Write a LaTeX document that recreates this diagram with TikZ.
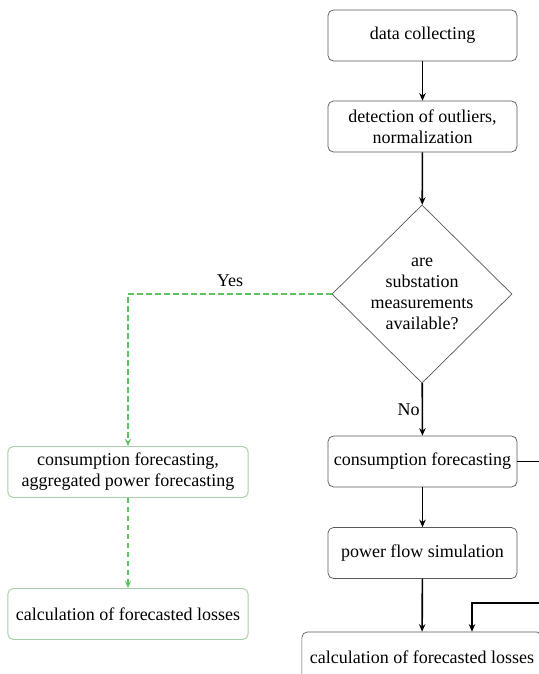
\documentclass[tikz,border=0pt]{standalone}
\usepackage{fontspec}
\setmainfont{Liberation Serif}
\usetikzlibrary{shapes.geometric,arrows.meta}
\begin{document}
\begin{tikzpicture}[x=0.5556pt,y=-0.5556pt,
  stepbox/.style={draw=black!65,line width=0.4pt,rounded corners=3pt,align=center,minimum width=105pt,minimum height=28.3pt,inner sep=2pt,font=\fontsize{10}{11.7}\selectfont},
  greenbox/.style={stepbox,draw=green!45!black!35!white,line width=0.5pt,minimum width=133.5pt},
  decision/.style={draw=black!65,line width=0.4pt,diamond,minimum width=100pt,minimum height=99pt,inner sep=0pt,align=center,font=\fontsize{10}{11.7}\selectfont},
  flow/.style={-{Stealth[length=4.2pt,width=3.6pt]},line width=0.9pt,black},
  gflow/.style={-{Stealth[length=4pt,width=3.4pt]},line width=0.8pt,color={rgb,255:red,95;green,195;blue,95},dash pattern=on 3pt off 2pt},
  lbl/.style={font=\fontsize{10}{12}\selectfont,inner sep=1pt}]
\useasboundingbox (0,0) rectangle (539,674);
\clip (0,0) rectangle (539,674);
\node[stepbox] (dc) at (422.5,35.5) {data collecting};
\node[stepbox] (det) at (422.5,126.5) {detection of outliers,\\normalization};
\node[decision] (dia) at (422,294) {are\\substation\\measurements\\available?};
\node[stepbox] (cf) at (422.5,461.5) {consumption forecasting};
\node[stepbox] (pf) at (422.5,553) {power flow simulation};
\node[stepbox,minimum width=133.5pt] (calc) at (422,657.5) {calculation of forecasted losses};
\node[greenbox] (cfa) at (128,472) {consumption forecasting,\\aggregated power forecasting};
\node[greenbox] (calcl) at (128,614) {calculation of forecasted losses};
\coordinate (r1) at (600,461.5);
\coordinate (r2) at (600,603);
\coordinate (r3) at (472,603);
\draw[flow] (dc) -- (det);
\draw[flow] (det) -- (dia);
\draw[flow] (dia) -- node[lbl,left,pos=0.5] {No} (cf);
\draw[flow] (cf) -- (pf);
\draw[flow] (pf) -- (calc);
\draw[flow] (cf.east) -- (r1) -- (r2) -- (r3) -- (r3 |- calc.north);
\draw[gflow] (dia.west) -- (cfa.north |- dia.west) -- (cfa.north);
\draw[gflow] (cfa) -- (calcl);
\node[lbl] (yes) at (230,281) {Yes};
\end{tikzpicture}
\end{document}
